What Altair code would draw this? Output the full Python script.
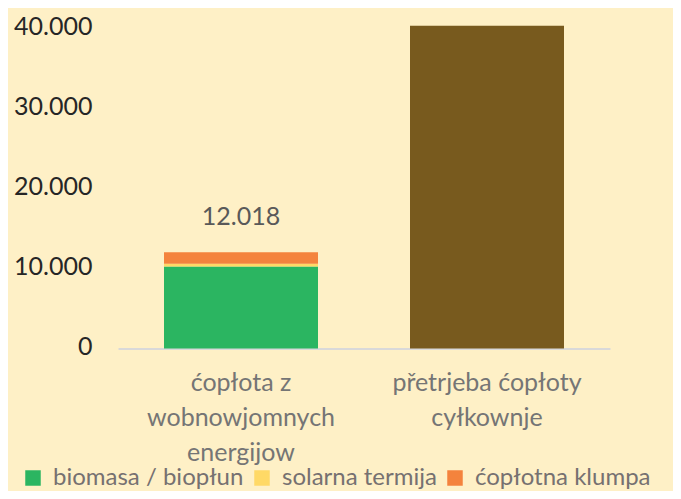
import json
import altair as alt
import pandas as pd

# ---- data ----
categories = ["ćopłota z wobnowjomnych energijow", "přetrjeba ćopłoty cyłkownje"]
category_lines = [["ćopłota z", "wobnowjomnych", "energijow"], ["přetrjeba ćopłoty", "cyłkownje"]]
series_names = ["biomasa / biopłun", "solarna termija", "ćopłotna klumpa"]
renewable_values = [10250, 350, 1418]          # stacked, total 12.018
demand_name = "přetrjeba ćopłoty cyłkownje"
demand_value = 40338
y_ticks = [0, 10000, 20000, 30000, 40000]
colors = ["#2BB561", "#FFD966", "#F4833D", "#785A1E"]
y_title = "[MWh]"

rows = []
for i, (s, v) in enumerate(zip(series_names, renewable_values)):
    rows.append({"cat": categories[0], "series": s, "value": v, "order": i})
rows.append({"cat": categories[1], "series": demand_name, "value": demand_value, "order": 0})
df = pd.DataFrame(rows)

FONT = "Lato"
label_expr = (
    f"datum.value == {json.dumps(categories[0], ensure_ascii=False)} ? "
    f"{json.dumps(category_lines[0], ensure_ascii=False)} : "
    f"{json.dumps(category_lines[1], ensure_ascii=False)}"
)

x_enc = alt.X(
    "cat:N",
    sort=categories,
    scale=alt.Scale(paddingInner=0.374, paddingOuter=0.187),
    axis=alt.Axis(
        title=None, labelAngle=0, labelFont=FONT, labelFontSize=25, labelColor="#757575",
        labelLineHeight=35, labelBaseline="top", labelPadding=22, labelExpr=label_expr,
        ticks=False, domainColor="#D9D9D9", domainWidth=2, labelLimit=0,
    ),
)

bars = alt.Chart(df).mark_bar().encode(
    x=x_enc,
    y=alt.Y(
        "sum(value):Q",
        scale=alt.Scale(domain=[0, 40000], nice=False),
        axis=alt.Axis(
            title=y_title, titleAngle=0, titleX=-61, titleY=-26, titleAlign="center",
            titleBaseline="bottom", titleFont=FONT, titleFontSize=25, titleFontWeight="normal",
            titleColor="#262626",
            values=y_ticks, format=",d", labelFont=FONT, labelFontSize=25, labelColor="#262626",
            labelPadding=26, labelOffset=-2, domain=False, ticks=False, grid=False,
        ),
    ),
    color=alt.Color(
        "series:N",
        scale=alt.Scale(domain=series_names + [demand_name], range=colors),
        legend=alt.Legend(
            title=None, values=series_names, orient="none", legendX=-97, legendY=437.5,
            direction="horizontal", columns=3, gridAlign="none", symbolType="square",
            symbolSize=240, symbolStrokeWidth=0, symbolOpacity=1, labelFont=FONT,
            labelFontSize=24, labelColor="#767171", labelOffset=8, columnPadding=6,
            padding=0, labelLimit=0,
        ),
    ),
    order=alt.Order("order:Q"),
)

labels = alt.Chart(df).mark_text(
    font=FONT, fontSize=25, color="#595959", baseline="alphabetic", dy=-27
).encode(
    x=alt.X("cat:N", sort=categories),
    y=alt.Y("sum(value):Q"),
    text=alt.Text("sum(value):Q", format=",d"),
)

chart = (
    alt.layer(bars, labels)
    .properties(
        width=492, height=320,
        autosize=alt.AutoSizeParams(type="none"),
        padding={"left": 110, "top": 20.5, "right": 63, "bottom": 142.5},
        background="#FEF0C6",
    )
    .configure(locale={"number": {"decimal": ",", "thousands": ".", "grouping": [3],
                                  "currency": ["", " €"]}})
    .configure_view(stroke="transparent", strokeWidth=0)
)

chart.save("out.html", embed_options={"renderer": "svg", "actions": False})
